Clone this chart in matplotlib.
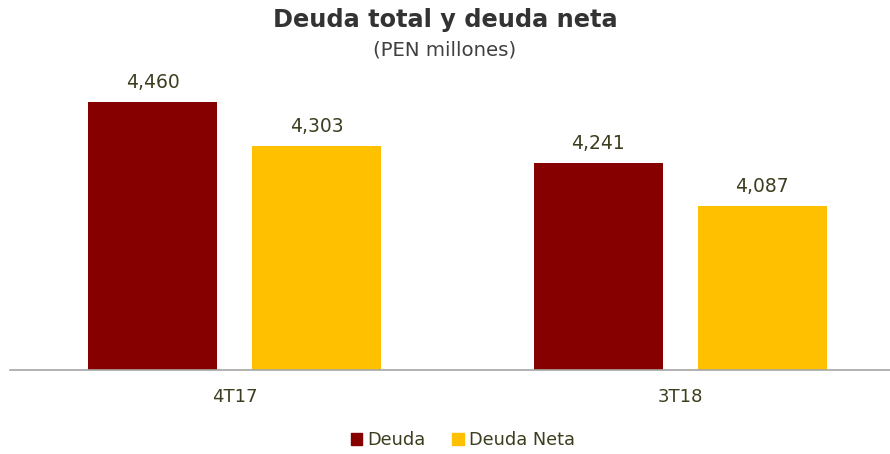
import matplotlib
matplotlib.use("Agg")
import matplotlib.pyplot as plt
from matplotlib.patches import Patch

categories = ["4T17", "3T18"]
deuda = [4460, 4241]
deuda_neta = [4303, 4087]
series_names = ["Deuda", "Deuda Neta"]

c_red = "#870000"
c_yel = "#FFC000"
txt = "#3d3d1f"

W, H = 890, 454
fig = plt.figure(figsize=(W/100, H/100), dpi=100)
ax = fig.add_axes([10/W, (H-370)/H, 880/W, (370-63)/H])

x = range(len(categories))
bw = 0.29
off = 0.184
b1 = ax.bar([i - off for i in x], deuda, bw, color=c_red, label=series_names[0])
b2 = ax.bar([i + off for i in x], deuda_neta, bw, color=c_yel, label=series_names[1])
ax.set_ylim(3500, 4600)
ax.set_xlim(-0.504, 1.471)

for bars in (b1, b2):
    for r in bars:
        ax.annotate(f"{int(r.get_height()):,}", (r.get_x() + r.get_width()/2, r.get_height()),
                    xytext=(0, 7), textcoords="offset points", ha="center", va="bottom",
                    fontsize=13.5, color=txt)

for s in ["top", "right", "left"]:
    ax.spines[s].set_visible(False)
ax.spines["bottom"].set_color("#a6a6a6")
ax.spines["bottom"].set_linewidth(1.2)
ax.set_yticks([])
ax.set_xticks(list(x))
ax.set_xticklabels(categories, fontsize=13, color=txt)
ax.tick_params(axis="x", length=0, pad=13)

fig.text(0.5, 1 - 20/H, "Deuda total y deuda neta", ha="center", va="center",
         fontsize=17.3, fontweight="bold", color="#333333")
fig.text(0.5, 1 - 50/H, "(PEN millones)", ha="center", va="center",
         fontsize=14.2, color="#404040")

handles = [Patch(color=c_red), Patch(color=c_yel)]
fig.legend(handles, series_names, loc="center", bbox_to_anchor=(0.5 + 18/W, 1 - 440/H), ncol=2,
           frameon=False, fontsize=12.8, labelcolor=txt, handlelength=0.65, handleheight=0.65,
           handletextpad=0.3, columnspacing=1.5)

fig.savefig("out.png", dpi=100)
